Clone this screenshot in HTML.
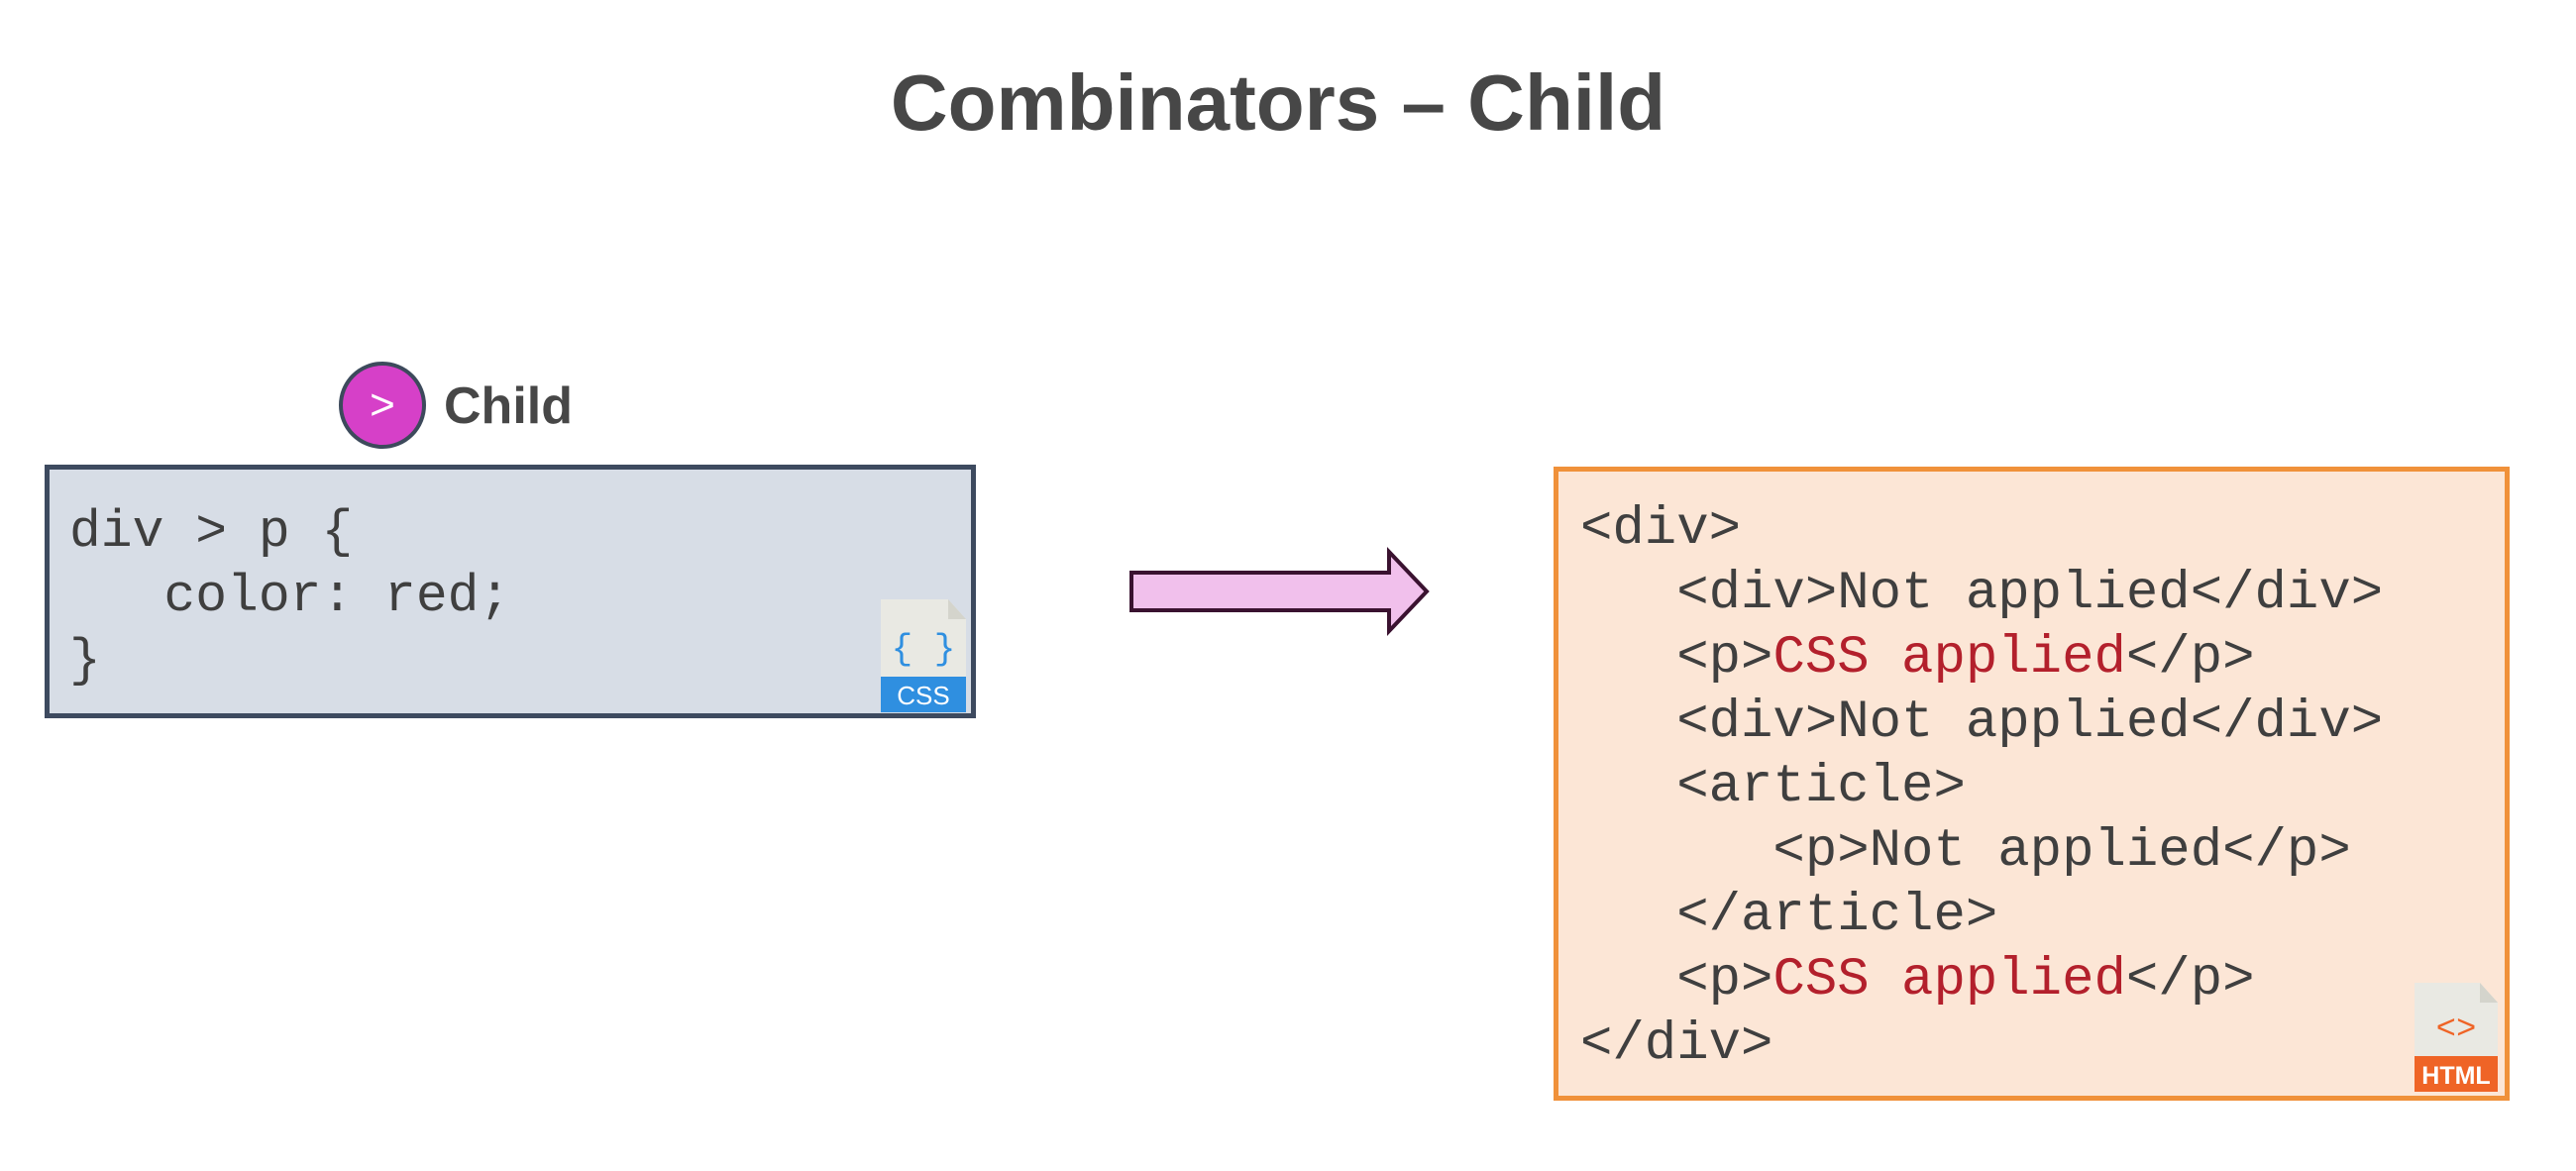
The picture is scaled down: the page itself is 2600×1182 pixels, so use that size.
<!DOCTYPE html>
<html><head><meta charset="utf-8"><style>
html,body{margin:0;padding:0;background:#fff;width:2600px;height:1182px;overflow:hidden;position:relative;font-family:"Liberation Sans",sans-serif}
.abs{position:absolute}
.mono{font-family:"Liberation Mono","DejaVu Sans Mono",monospace;font-size:54px;color:#3f3f3f;white-space:pre;line-height:65px}
.r{color:#b3202c}
</style></head><body>
<div class="abs" style="left:0;width:2580px;top:54px;text-align:center;font-size:80px;font-weight:bold;color:#474747;line-height:100px">Combinators – Child</div>

<div class="abs" style="left:342px;top:365px;width:80px;height:80px;border-radius:50%;background:#d640c8;border:4px solid #3d4a5c;color:#fff;font-size:44px;text-align:center;line-height:80px">&gt;</div>
<div class="abs" style="left:448px;top:378px;font-size:52px;font-weight:bold;color:#474747;line-height:64px">Child</div>

<div class="abs" style="left:45px;top:469px;width:930px;height:246px;background:#d7dde6;border:5px solid #3d4a5f"></div>
<div class="abs mono" style="left:70px;top:505px;font-size:53px">div &gt; p {
   color: red;
}</div>
<svg class="abs" style="left:889px;top:605px" width="88" height="115">
<path d="M0 0 H68 L86 20 V78 H0 Z" fill="#e9e9e3"/>
<path d="M68 0 V20 H86 Z" fill="#d4d4cc"/>
<rect x="0" y="78" width="86" height="36" fill="#2f8fe0"/>
<text x="43" y="60" font-family="Liberation Mono,monospace" font-size="36" fill="#2f8fe0" text-anchor="middle">{ }</text>
<text x="43" y="106" font-family="Liberation Sans,sans-serif" font-size="26" fill="#fff" text-anchor="middle">CSS</text>
</svg>

<svg class="abs" style="left:0;top:0" width="2600" height="1182">
<path d="M1142 578 H1402 V557 L1440 597 L1402 637 V616 H1142 Z" fill="#f1c0ec" stroke="#3a1230" stroke-width="4" stroke-linejoin="miter"/>
</svg>

<div class="abs" style="left:1568px;top:471px;width:955px;height:630px;background:#fce6d6;border:5px solid #f0913a"></div>
<div class="abs mono" style="left:1595px;top:502px">&lt;div&gt;
   &lt;div&gt;Not applied&lt;/div&gt;
   &lt;p&gt;<span class="r">CSS applied</span>&lt;/p&gt;
   &lt;div&gt;Not applied&lt;/div&gt;
   &lt;article&gt;
      &lt;p&gt;Not applied&lt;/p&gt;
   &lt;/article&gt;
   &lt;p&gt;<span class="r">CSS applied</span>&lt;/p&gt;
&lt;/div&gt;</div>
<svg class="abs" style="left:2437px;top:992px" width="88" height="112">
<path d="M0 0 H66 L84 20 V74 H0 Z" fill="#e9e9e3"/>
<path d="M66 0 V20 H84 Z" fill="#d4d4cc"/>
<rect x="0" y="74" width="84" height="36" fill="#ef6426"/>
<text x="42" y="56" font-family="Liberation Mono,monospace" font-size="34" fill="#ef6426" text-anchor="middle">&lt;&gt;</text>
<text x="42" y="102" font-family="Liberation Sans,sans-serif" font-size="25" font-weight="bold" fill="#fff" text-anchor="middle">HTML</text>
</svg>
</body></html>
